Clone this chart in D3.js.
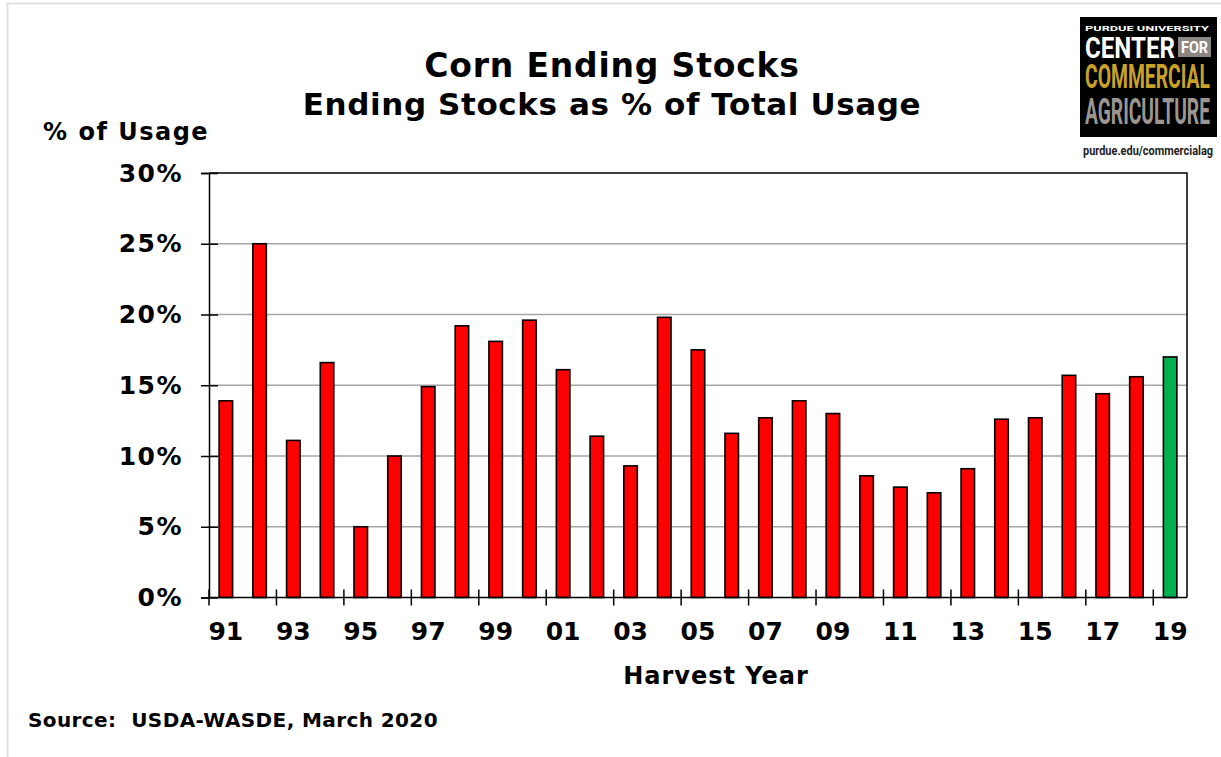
<!DOCTYPE html>
<html>
<head>
<meta charset="utf-8">
<script src="https://cdn.jsdelivr.net/npm/d3@7"></script>
<style>
  body { margin: 0; background: #fff; }
  svg { display: block; }
  text { font-family: "DejaVu Sans", Verdana, sans-serif; font-weight: bold; fill: #000; }
  .logo text { font-family: "Liberation Sans Narrow", "Roboto", "Liberation Sans", sans-serif; }
</style>
</head>
<body>
<div id="chart"></div>
<script>
// harvest years and ending stocks as % of total usage (USDA-WASDE, March 2020)
const years = [1991, 1992, 1993, 1994, 1995, 1996, 1997, 1998, 1999, 2000,
  2001, 2002, 2003, 2004, 2005, 2006, 2007, 2008, 2009, 2010,
  2011, 2012, 2013, 2014, 2015, 2016, 2017, 2018, 2019]
const stocksPct = [13.9, 25.0, 11.1, 16.6, 5.0, 10.0, 14.9, 19.2, 18.1, 19.6,
  16.1, 11.4, 9.3, 19.8, 17.5, 11.6, 12.7, 13.9, 13.0, 8.6,
  7.8, 7.4, 9.1, 12.6, 12.7, 15.7, 14.4, 15.6, 17.0]
const projectedYear = 2019
const xTickYears = [1991, 1993, 1995, 1997, 1999, 2001, 2003, 2005, 2007, 2009,
  2011, 2013, 2015, 2017, 2019]
const yTicks = [0, 5, 10, 15, 20, 25, 30]

const width = 1221
const height = 757
const plot = { left: 209, right: 1187, top: 173, bottom: 597.5 }

const svg = d3.select('#chart')
  .append('svg')
  .attr('width', width)
  .attr('height', height)

// faint slide frame
svg.append('path')
  .attr('d', `M7.5,${height} V3.5 H${width}`)
  .attr('fill', 'none')
  .attr('stroke', '#e0e0e0')
  .attr('stroke-width', 2)

const x = d3.scaleBand()
  .domain(years)
  .range([plot.left, plot.right])
  .paddingInner(0.6)
  .paddingOuter(0.3)

const y = d3.scaleLinear()
  .domain([0, 30])
  .range([plot.bottom, plot.top])

const gap = (x.step() - x.bandwidth()) / 2

// grid lines
svg.append('g')
  .selectAll('line')
  .data(yTicks.filter(d => d > 0 && d < 30))
  .enter()
  .append('line')
  .attr('x1', plot.left)
  .attr('x2', plot.right)
  .attr('y1', d => y(d))
  .attr('y2', d => y(d))
  .attr('stroke', '#a6a6a6')
  .attr('stroke-width', 1.5)

// bars
svg.append('g')
  .selectAll('rect')
  .data(years)
  .enter()
  .append('rect')
  .attr('x', d => x(d))
  .attr('y', (d, i) => y(stocksPct[i]))
  .attr('width', x.bandwidth())
  .attr('height', (d, i) => plot.bottom - y(stocksPct[i]))
  .attr('fill', d => d === projectedYear ? '#00b050' : '#ff0000')
  .attr('stroke', '#000')
  .attr('stroke-width', 1.6)

// top and right border
svg.append('path')
  .attr('d', `M${plot.left},${plot.top} H${plot.right} V${plot.bottom}`)
  .attr('fill', 'none')
  .attr('stroke', '#000')
  .attr('stroke-width', 1.5)

// y axis
const yAxis = d3.axisLeft(y)
  .tickValues(yTicks)
  .tickFormat(d => d + '%')
  .tickSize(8)
  .tickPadding(18)

const gy = svg.append('g')
  .attr('transform', `translate(${plot.left}, 0)`)
  .call(yAxis)
gy.select('.domain').attr('stroke-width', 1.5)
gy.selectAll('.tick line').attr('x2', -8).attr('x1', 9).attr('stroke-width', 1.5)
gy.selectAll('.tick text')
  .attr('font-size', 25)
  .attr('font-family', null)
  .attr('letter-spacing', 1.5)

// x axis: labels centred on bars, tick marks on every other boundary
const xAxis = d3.axisBottom(x)
  .tickValues(xTickYears)
  .tickFormat(d => String(d).slice(2))
  .tickSize(0)
  .tickPadding(25)

const gx = svg.append('g')
  .attr('transform', `translate(0, ${plot.bottom})`)
  .call(xAxis)
gx.select('.domain')
  .attr('d', `M${plot.left},0H${plot.right}`)
  .attr('stroke-width', 1.5)
gx.selectAll('.tick text')
  .attr('font-size', 25)
  .attr('font-family', null)

svg.append('g')
  .selectAll('line')
  .data(xTickYears)
  .enter()
  .append('line')
  .attr('x1', d => x(d) - gap)
  .attr('x2', d => x(d) - gap)
  .attr('y1', plot.bottom - 8)
  .attr('y2', plot.bottom + 8)
  .attr('stroke', '#000')
  .attr('stroke-width', 1.5)

// titles and labels
svg.append('text')
  .attr('x', 612).attr('y', 77)
  .attr('text-anchor', 'middle')
  .attr('font-size', 33)
  .attr('letter-spacing', 0.8)
  .text('Corn Ending Stocks')

svg.append('text')
  .attr('x', 612).attr('y', 115)
  .attr('text-anchor', 'middle')
  .attr('font-size', 31)
  .attr('letter-spacing', 0.6)
  .text('Ending Stocks as % of Total Usage')

svg.append('text')
  .attr('x', 43).attr('y', 140)
  .attr('font-size', 24)
  .attr('letter-spacing', 1.5)
  .text('% of Usage')

svg.append('text')
  .attr('x', 716).attr('y', 684)
  .attr('text-anchor', 'middle')
  .attr('font-size', 24)
  .attr('letter-spacing', 1)
  .text('Harvest Year')

svg.append('text')
  .attr('x', 28).attr('y', 727)
  .attr('font-size', 20)
  .attr('letter-spacing', 0.4)
  .attr('xml:space', 'preserve')
  .style('white-space', 'pre')
  .text('Source:  USDA-WASDE, March 2020')

// logo
const logo = svg.append('g').attr('class', 'logo')
logo.append('rect')
  .attr('x', 1080).attr('y', 17)
  .attr('width', 137).attr('height', 120)
  .attr('fill', '#000')
logo.append('text')
  .attr('x', 1085).attr('y', 31)
  .attr('font-size', 8)
  .attr('textLength', 124)
  .attr('lengthAdjust', 'spacingAndGlyphs')
  .style('fill', '#fff')
  .text('PURDUE UNIVERSITY')
logo.append('text')
  .attr('x', 1085).attr('y', 58)
  .attr('font-size', 30)
  .attr('textLength', 90)
  .attr('lengthAdjust', 'spacingAndGlyphs')
  .style('fill', '#fff')
  .text('CENTER')
logo.append('rect')
  .attr('x', 1178).attr('y', 37)
  .attr('width', 33).attr('height', 20)
  .attr('fill', '#8c8782')
logo.append('text')
  .attr('x', 1181).attr('y', 53)
  .attr('font-size', 16)
  .attr('textLength', 27)
  .attr('lengthAdjust', 'spacingAndGlyphs')
  .style('fill', '#fff')
  .text('FOR')
logo.append('text')
  .attr('x', 1085).attr('y', 88)
  .attr('font-size', 33)
  .attr('textLength', 125)
  .attr('lengthAdjust', 'spacingAndGlyphs')
  .style('fill', '#c9a227')
  .text('COMMERCIAL')
logo.append('text')
  .attr('x', 1085).attr('y', 124)
  .attr('font-size', 36)
  .attr('textLength', 125)
  .attr('lengthAdjust', 'spacingAndGlyphs')
  .style('fill', '#9b968f')
  .text('AGRICULTURE')
logo.append('text')
  .attr('x', 1148).attr('y', 155)
  .attr('text-anchor', 'middle')
  .attr('font-size', 13)
  .attr('textLength', 130)
  .attr('lengthAdjust', 'spacingAndGlyphs')
  .style('fill', '#222')
  .text('purdue.edu/commercialag')
</script>
</body>
</html>
